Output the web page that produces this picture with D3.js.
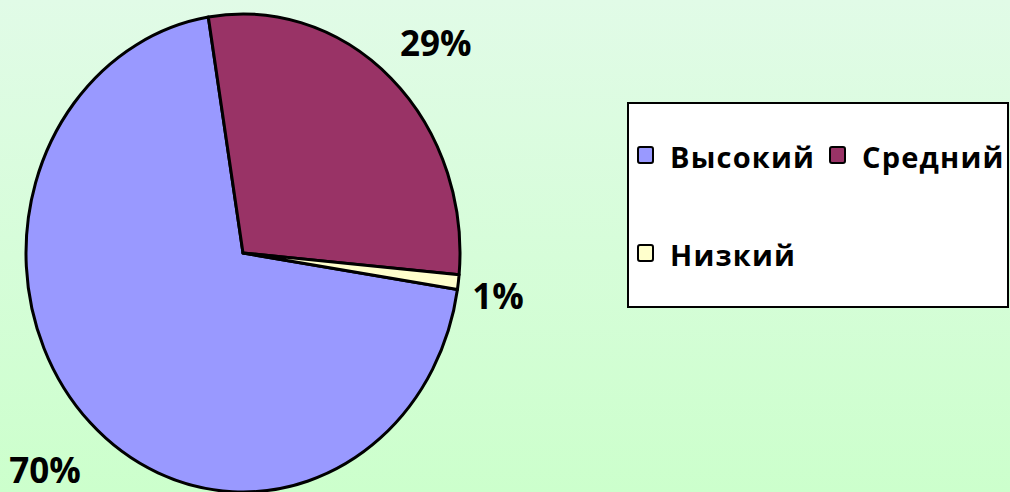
<!DOCTYPE html>
<html>
<head>
<meta charset="utf-8">
<script src="https://cdn.jsdelivr.net/npm/d3@7/dist/d3.min.js"></script>
<style>
  html, body { margin: 0; padding: 0; overflow: hidden; }
  text { font-family: "Open Sans", sans-serif; font-weight: 700; }
</style>
</head>
<body>
<div id="chart"></div>
<script>
// chart data
const categories = ["Высокий", "Средний", "Низкий"];
const values = [70, 29, 1];
const percentLabels = ["70%", "29%", "1%"];
const colors = ["#9999ff", "#993366", "#ffffcc"];

const W = 1010, H = 492;
const cx = 243, cy = 253, rx = 217, ry = 239;

const svg = d3.select("#chart").append("svg")
  .attr("width", W)
  .attr("height", H);

const defs = svg.append("defs");
const grad = defs.append("linearGradient")
  .attr("id", "bg")
  .attr("x1", 0).attr("y1", 0).attr("x2", 0).attr("y2", 1);
grad.append("stop").attr("offset", "0%").attr("stop-color", "#e1fbe7");
grad.append("stop").attr("offset", "100%").attr("stop-color", "#ccffcc");

svg.append("rect")
  .attr("width", W).attr("height", H)
  .attr("fill", "url(#bg)");

// pie rotated so the big slice starts just below 3 o'clock
const startDeg = 98.8;
const pie = d3.pie()
  .sort(null)
  .value(d => d)
  .startAngle(startDeg * Math.PI / 180)
  .endAngle(startDeg * Math.PI / 180 + 2 * Math.PI);

const arcs = pie(values);
const arc = d3.arc().innerRadius(0).outerRadius(rx);

const pieG = svg.append("g")
  .attr("transform", `translate(${cx},${cy}) scale(1,${ry / rx})`);

pieG.selectAll("path")
  .data(arcs)
  .join("path")
  .attr("d", arc)
  .attr("fill", (d, i) => colors[i])
  .attr("stroke", "#000")
  .attr("stroke-width", 3)
  .attr("stroke-linejoin", "round")
  .attr("vector-effect", "non-scaling-stroke");

// labels placed outside the edge of each slice
const labels = svg.append("g").selectAll("text")
  .data(arcs)
  .join("text")
  .attr("font-size", 35)
  .attr("fill", "#000")
  .attr("text-anchor", "middle")
  .attr("dominant-baseline", "central")
  .text((d, i) => percentLabels[i]);

labels.each(function (d) {
  const a = (d.startAngle + d.endAngle) / 2;
  const ex = cx + rx * Math.sin(a), ey = cy - ry * Math.cos(a);
  let ux = rx * Math.sin(a), uy = -ry * Math.cos(a);
  const len = Math.hypot(ux, uy);
  ux /= len; uy /= len;
  const bb = this.getBBox();
  const x = ex + Math.sign(ux) * bb.width / 2 + ux * 14;
  const y = ey + uy * 55 + 6;
  d3.select(this).attr("x", x).attr("y", y);
});

// legend
const legend = svg.append("g");
legend.append("rect")
  .attr("x", 628).attr("y", 103)
  .attr("width", 380).attr("height", 204)
  .attr("fill", "#fff")
  .attr("stroke", "#000")
  .attr("stroke-width", 2);

const itemX = [638, 830, 638];
const itemY = [155, 155, 253];

const items = legend.selectAll("g.item")
  .data(categories)
  .join("g")
  .attr("class", "item")
  .attr("transform", (d, i) => `translate(${itemX[i]},${itemY[i]})`);

items.append("rect")
  .attr("x", 0).attr("y", -8)
  .attr("width", 15).attr("height", 16)
  .attr("rx", 2)
  .attr("fill", (d, i) => colors[i])
  .attr("stroke", "#000")
  .attr("stroke-width", 2);

items.append("text")
  .attr("x", 32)
  .attr("y", 1)
  .attr("dominant-baseline", "central")
  .attr("font-size", 29)
  .attr("letter-spacing", 1.2)
  .attr("fill", "#000")
  .text(d => d);
</script>
</body>
</html>
